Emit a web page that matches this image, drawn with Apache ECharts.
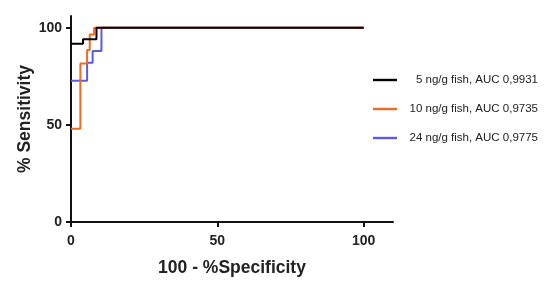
<!DOCTYPE html>
<html>
<head>
<meta charset="utf-8">
<script src="https://cdn.jsdelivr.net/npm/echarts@6/dist/echarts.min.js"></script>
<style>
  html, body { margin: 0; padding: 0; background: #fff; }
  #chart { width: 550px; height: 282px; }
</style>
</head>
<body>
<div id="chart"></div>
<script>
// ROC curves, step points (x = 100 - %Specificity, y = % Sensitivity)
var names = ['5 ng/g fish, AUC 0,9931', '10 ng/g fish, AUC 0,9735', '24 ng/g fish, AUC 0,9775'];
var colors = ['#000000', '#EE6B1F', '#5B5BEB'];
var x5 = [0, 4.1, 8.7, 100];
var y5 = [91.7, 94, 100, 100];
var x10 = [0, 3.2, 5.5, 6.4, 7.9, 100];
var y10 = [48, 81.5, 88.5, 96.5, 100, 100];
var x24 = [0, 5.5, 7.4, 10.4, 100];
var y24 = [72.7, 82, 88, 100, 100];
var xTicks = [0, 50, 100];
var yTicks = [0, 50, 100];

function pairs(xs, ys) {
  return xs.map(function (x, i) { return [x, ys[i]]; });
}

var myChart = echarts.init(document.getElementById('chart'));
var font = 'Liberation Sans, Arial, sans-serif';

function mk(i, xs, ys, z) {
  return {
    name: names[i],
    type: 'line',
    step: 'end',
    data: pairs(xs, ys),
    showSymbol: false,
    z: z,
    lineStyle: { color: colors[i], width: 2 },
    itemStyle: { color: colors[i] },
    animation: false
  };
}

myChart.setOption({
  animation: false,
  grid: { left: 71, right: 157, top: 16, bottom: 60 },
  legend: {
    orient: 'vertical',
    left: 368,
    top: 69,
    itemWidth: 24,
    itemHeight: 14,
    itemGap: 17,
    data: names.map(function (n, i) {
      return { name: n, icon: 'path://M0,0 L24,0 L24,2.4 L0,2.4 Z', itemStyle: { color: colors[i] } };
    }),
    formatter: function (n) { return '{a|' + n + '}'; },
    textStyle: {
      rich: {
        a: { width: 136, align: 'right', fontFamily: font, fontSize: 11.5, color: '#222' }
      }
    }
  },
  xAxis: {
    type: 'value',
    min: 0,
    max: 110,
    name: '100 - %Specificity',
    nameLocation: 'middle',
    nameGap: 37,
    nameTextStyle: { fontFamily: font, fontSize: 17.5, fontWeight: 'bold', color: '#222' },
    splitLine: { show: false },
    axisLine: { lineStyle: { color: '#111', width: 2 } },
    axisTick: { customValues: xTicks, length: 5, lineStyle: { color: '#111', width: 2 } },
    axisLabel: { customValues: xTicks, fontFamily: font, fontSize: 14, fontWeight: 'bold', color: '#222', margin: 12 }
  },
  yAxis: {
    type: 'value',
    min: 0,
    max: 106,
    name: '% Sensitivity',
    nameLocation: 'middle',
    nameGap: 37,
    nameMoveOverlap: false,
    nameTextStyle: { fontFamily: font, fontSize: 17.5, fontWeight: 'bold', color: '#222' },
    splitLine: { show: false },
    axisLine: { show: true, lineStyle: { color: '#111', width: 2 } },
    axisTick: { show: true, customValues: yTicks, length: 5, lineStyle: { color: '#111', width: 2 } },
    axisLabel: { customValues: yTicks, fontFamily: font, fontSize: 14, fontWeight: 'bold', color: '#222', margin: 9 }
  },
  series: [
    mk(2, x24, y24, 2),
    mk(1, x10, y10, 3),
    mk(0, x5, y5, 4)
  ]
});
</script>
</body>
</html>
